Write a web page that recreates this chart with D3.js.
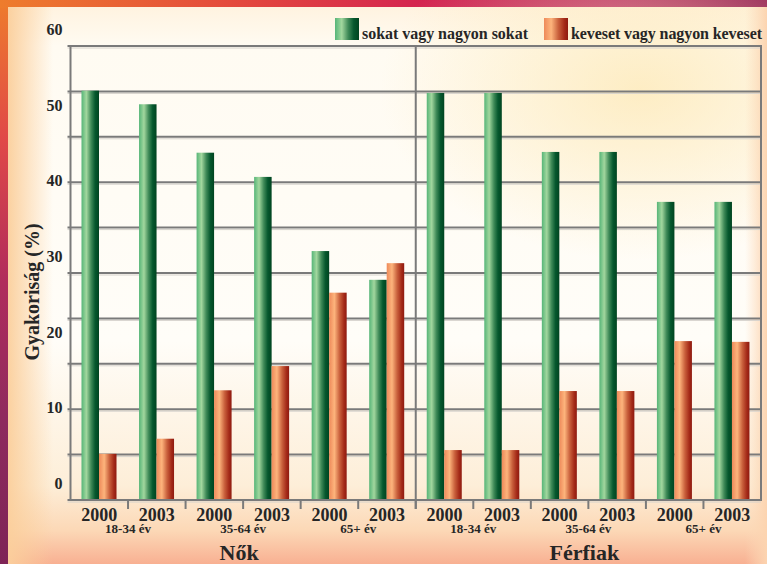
<!DOCTYPE html>
<html>
<head>
<meta charset="utf-8">
<script src="https://cdn.jsdelivr.net/npm/d3@7"></script>
<style>
body { margin: 0; }
svg { display: block; font-family: "Liberation Serif", serif; font-weight: bold; }
</style>
</head>
<body>
<div id="chart"></div>
<script>
// Values
const groups = ["Nők", "Férfiak"];
const ageGroups = ["18-34 év", "35-64 év", "65+ év"];
const years = ["2000", "2003"];
const seriesNames = ["sokat vagy nagyon sokat", "keveset vagy nagyon keveset"];
const sokatValues = [54.1, 52.3, 45.9, 42.7, 32.9, 29.1, 53.8, 53.8, 46.0, 46.0, 39.4, 39.4];
const kevesetValues = [6.1, 8.1, 14.5, 17.7, 27.4, 31.3, 6.6, 6.6, 14.4, 14.4, 21.0, 20.9];
const yTickLabels = [0, 10, 20, 30, 40, 50, 60];
const gridValues = d3.range(0, 61, 6);

// Layout constants
const cw = 767;
const ch = 564;
const pLeft = 70.5;
const pRight = 761;
const pTop = 46;
const pBottom = 500;
const ink = "#262626";
const lineColor = "#7a7a7a";

// one row per bar pair
const rows = [];
groups.forEach((g, gi) => {
    ageGroups.forEach((a, ai) => {
        years.forEach((yr, yi) => {
            const i = gi * 6 + ai * 2 + yi;
            rows.push({ i: i, group: g, age: a, year: yr, values: [sokatValues[i], kevesetValues[i]] });
        });
    });
});

const svg = d3.select("#chart").append("svg")
              .attr("width", cw)
              .attr("height", ch);
const defs = svg.append("defs");

function linGrad(id, stops, vertical) {
    const g = defs.append("linearGradient").attr("id", id)
        .attr("x1", 0).attr("y1", 0)
        .attr("x2", vertical ? 0 : 1).attr("y2", vertical ? 1 : 0);
    stops.forEach(s => g.append("stop").attr("offset", s[0]).attr("stop-color", s[1]).attr("stop-opacity", s[2] === undefined ? 1 : s[2]));
}

linGrad("gTop", [[0, "#ee7c2c"], [0.3, "#e44a3c"], [0.55, "#d42450"], [0.8, "#b0125a"], [1, "#880a4a"]], false);
linGrad("gLeft", [[0, "#ee7c2c"], [0.25, "#e04848"], [0.5, "#b02c5c"], [0.75, "#8e2a5e"], [1, "#7e2456"]], true);
linGrad("gInner", [[0, "#fff3e0"], [0.07, "#fffbf2"], [0.6, "#fffdf8"], [0.86, "#fdeed8"], [0.94, "#fcd8b6"], [1, "#f8b092"]], true);
linGrad("gLeftGlow", [[0, "#fbcf9c", 0.95], [1, "#fbcf9c", 0]], false);
linGrad("gRightGlow", [[0, "#fcd9b8", 0], [1, "#fcd4b0", 1]], false);
linGrad("gGreen", [[0, "#56b578"], [0.28, "#a2d79e"], [0.55, "#3f8a58"], [0.78, "#06582e"], [1, "#004420"]], false);
linGrad("gOrange", [[0, "#ee8a5a"], [0.3, "#fdb47c"], [0.6, "#c9603c"], [0.85, "#a42a18"], [1, "#8e1a10"]], false);

const glow = defs.append("radialGradient").attr("id", "gGlow");
glow.append("stop").attr("offset", 0).attr("stop-color", "#fde8b4").attr("stop-opacity", 0.75);
glow.append("stop").attr("offset", 1).attr("stop-color", "#fde8b4").attr("stop-opacity", 0);

const fills = ["url(#gGreen)", "url(#gOrange)"];

// background and frame of the picture
svg.append("rect").attr("width", cw).attr("height", ch).attr("fill", "url(#gLeft)");
svg.append("rect").attr("width", cw).attr("height", 8).attr("fill", "url(#gTop)");
svg.append("rect").attr("x", 8).attr("y", 7).attr("width", cw - 8).attr("height", ch - 7).attr("fill", "url(#gInner)");
svg.append("ellipse").attr("cx", 640).attr("cy", 90).attr("rx", 260).attr("ry", 170).attr("fill", "url(#gGlow)");
svg.append("rect").attr("x", 8).attr("y", 7).attr("width", 45).attr("height", ch - 7).attr("fill", "url(#gLeftGlow)");
svg.append("rect").attr("x", 745).attr("y", 7).attr("width", 22).attr("height", ch - 7).attr("fill", "url(#gRightGlow)");

// scales
const x = d3.scaleBand().domain(d3.range(12)).range([pLeft, pRight]);
const xs = d3.scaleBand().domain(seriesNames).range([11, 46]);
const y = d3.scaleLinear().domain([0, 60]).range([pBottom, pTop]);

// gridlines
const grid = svg.append("g");
grid.selectAll("line.shade")
    .data(gridValues)
    .join("line")
    .attr("class", "shade")
    .attr("x1", pLeft - 3).attr("x2", pRight)
    .attr("y1", d => y(d) + 2).attr("y2", d => y(d) + 2)
    .attr("stroke", "#d6d2cc").attr("stroke-width", 1);
grid.selectAll("line.main")
    .data(gridValues)
    .join("line")
    .attr("class", "main")
    .attr("x1", pLeft - 3).attr("x2", pRight)
    .attr("y1", d => y(d)).attr("y2", d => y(d))
    .attr("stroke", lineColor).attr("stroke-width", 2);

// bars
svg.append("g")
    .selectAll("g")
    .data(rows)
    .join("g")
    .attr("transform", d => `translate(${x(d.i)},0)`)
    .selectAll("rect")
    .data(d => d.values.map((v, k) => ({ name: seriesNames[k], v: v, k: k })))
    .join("rect")
    .attr("x", d => xs(d.name))
    .attr("width", xs.bandwidth())
    .attr("y", d => y(d.v))
    .attr("height", d => y(0) - y(d.v))
    .attr("fill", d => fills[d.k]);

// plot frame, divider and ticks
svg.append("rect")
    .attr("x", pLeft).attr("y", pTop)
    .attr("width", pRight - pLeft).attr("height", pBottom - pTop)
    .attr("fill", "none").attr("stroke", lineColor).attr("stroke-width", 2);
svg.append("line")
    .attr("x1", x(6)).attr("x2", x(6))
    .attr("y1", pTop).attr("y2", pBottom + 9)
    .attr("stroke", lineColor).attr("stroke-width", 2);
svg.append("g")
    .selectAll("line")
    .data(d3.range(1, 12))
    .join("line")
    .attr("x1", d => x(d)).attr("x2", d => x(d))
    .attr("y1", pBottom).attr("y2", pBottom + 9)
    .attr("stroke", lineColor).attr("stroke-width", 2);

// y axis labels (sit above their values, as in the original)
const yAxis = svg.append("g")
    .attr("transform", `translate(${pLeft - 8},0)`)
    .call(d3.axisLeft(y).tickValues(yTickLabels).tickSize(0).tickPadding(0));
yAxis.select(".domain").remove();
yAxis.selectAll("text")
    .attr("dy", "-0.72em")
    .attr("font-size", 16)
    .attr("font-family", "Liberation Serif")
    .attr("font-weight", "bold")
    .attr("fill", ink);

svg.append("text")
    .attr("transform", "translate(39,292) rotate(-90)")
    .attr("text-anchor", "middle")
    .attr("font-size", 20)
    .attr("fill", ink)
    .text("Gyakoriság (%)");

// x labels: years, age groups, sexes
const xAxis = svg.append("g")
    .attr("transform", `translate(0,${pBottom})`)
    .call(d3.axisBottom(x).tickSize(0).tickPadding(0).tickFormat(i => rows[i].year));
xAxis.select(".domain").remove();
xAxis.selectAll("text")
    .attr("y", 20.5)
    .attr("dy", 0)
    .attr("font-size", 18)
    .attr("font-family", "Liberation Serif")
    .attr("font-weight", "bold")
    .attr("fill", ink);

svg.append("g")
    .selectAll("text")
    .data(rows.filter(d => d.year === years[1]))
    .join("text")
    .attr("x", d => x(d.i))
    .attr("y", 533)
    .attr("text-anchor", "middle")
    .attr("font-size", 13)
    .attr("fill", ink)
    .text(d => d.age);

svg.append("g")
    .selectAll("text")
    .data(groups)
    .join("text")
    .attr("x", (d, gi) => (x(gi * 6) + (gi === 0 ? x(6) : pRight)) / 2 - 4)
    .attr("y", 560)
    .attr("text-anchor", "middle")
    .attr("font-size", 22)
    .attr("fill", ink)
    .text(d => d);

// legend
const legendX = [335, 544];
const legendTextWidth = [166, 191];
const legend = svg.append("g")
    .selectAll("g")
    .data(seriesNames)
    .join("g")
    .attr("transform", (d, k) => `translate(${legendX[k]},18)`);
legend.append("rect")
    .attr("width", 24).attr("height", 22)
    .attr("fill", (d, k) => fills[k]);
legend.append("text")
    .attr("x", 27).attr("y", 21)
    .attr("font-size", 16)
    .attr("textLength", (d, k) => legendTextWidth[k])
    .attr("fill", ink)
    .text(d => d);
</script>
</body>
</html>
